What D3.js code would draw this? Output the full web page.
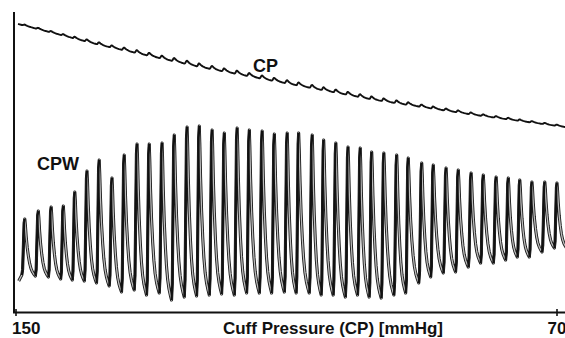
<!DOCTYPE html>
<html>
<head>
<meta charset="utf-8">
<script src="https://cdn.jsdelivr.net/npm/d3@7"></script>
<style>
  body { margin: 0; background: #fff; }
  text { font-family: "Liberation Sans", Arial, sans-serif; font-weight: bold; fill: #111; }
</style>
</head>
<body>
<div id="chart"></div>
<script>
// x axis: cuff pressure, falling during deflation
const cuffTicks = [150, 70];

// each pulse: cuff pressure at its peak, peak level and the trough just before it (signal units)
const beatCP = [148.7, 146.7, 144.8, 143.0, 141.3, 139.5, 137.7, 135.8, 134.0, 132.1,
                130.3, 128.4, 126.6, 124.7, 122.9, 121.0, 119.2, 117.3, 115.5, 113.6,
                111.8, 109.9, 108.2, 106.2, 104.5, 102.7, 100.9, 99.1, 97.4, 95.6,
                93.7, 92.0, 90.0, 88.3, 86.4, 84.6, 82.7, 80.9, 79.0, 77.2,
                75.5, 73.7, 71.8, 70.0];
const beatPeak = [93, 101, 105, 106, 120, 141, 152, 134, 157, 168,
                  168, 169, 177, 185, 186, 182, 179, 184, 182, 181,
                  178, 179, 179, 177, 172, 169, 165, 164, 160, 159,
                  157, 154, 149, 147, 144, 142, 139, 137, 135, 134,
                  132, 130, 130, 129];
const beatTrough = [37, 36, 35, 33, 32, 31, 29, 26, 20, 22,
                    17, 19, 12, 15, 16, 17, 18, 17, 19, 19,
                    19, 20, 19, 19, 17, 17, 15, 17, 15, 14,
                    17, 19, 29, 35, 39, 40, 45, 49, 49, 52,
                    55, 55, 60, 64];
const waveStart = [149.6, 31];

// slow cuff pressure trend (the CP trace without its pulse ripple)
const cpKnotCP = [149.7, 137.6, 122.8, 109.5, 96.9, 82.1, 68.8];
const cpKnotLevel = [288, 267, 245, 228, 212, 197, 185];
const cpRipple = 0.02;

// shape of one beat: fall after the peak, then the upstroke
const fallPhase = [0.04, 0.1, 0.18, 0.27, 0.36, 0.46, 0.57, 0.68, 0.78];
const fallShape = [0.1, 0.3, 0.5, 0.66, 0.78, 0.87, 0.93, 0.97, 1];
const risePhase = [0.84, 0.9, 0.95];
const riseShape = [0.1, 0.55, 0.93];

const width = 565, height = 338;

const svg = d3.select("#chart").append("svg")
    .attr("width", width)
    .attr("height", height);

const x = d3.scaleLinear().domain([150, 70]).range([16, 557]);
const y = d3.scaleLinear().domain([0, 300]).range([312, 12]);
const cpBase = d3.scaleLinear().domain(cpKnotCP).range(cpKnotLevel).clamp(true);

// build the CPW samples beat by beat
const n = beatCP.length;
const period = i => i < n - 1 ? beatCP[i] - beatCP[i + 1] : beatCP[i - 1] - beatCP[i];
const wave = [{ cp: waveStart[0], v: waveStart[1] }];
const upstrokes = [];
const troughCP = [];
for (let i = 0; i < n; i++) {
    const t0 = beatCP[i], p = period(i);
    // trough and upstroke into this peak
    const tPrev = t0 + (i > 0 ? beatCP[i - 1] - t0 : p);
    const tTr = tPrev + 0.78 * (t0 - tPrev);
    troughCP.push(tTr);
    const up = [{ cp: tTr, v: beatTrough[i] }];
    risePhase.forEach((ph, k) => up.push({
        cp: tPrev + ph * (t0 - tPrev),
        v: beatTrough[i] + riseShape[k] * (beatPeak[i] - beatTrough[i])
    }));
    up.push({ cp: t0, v: beatPeak[i] });
    up.forEach(d => wave.push(d));
    upstrokes.push(up);
    // fall towards the next trough
    const t1 = t0 - p;
    const next = i < n - 1 ? beatTrough[i + 1] : beatTrough[i];
    fallPhase.slice(0, -1).forEach((ph, k) => wave.push({
        cp: t0 + ph * (t1 - t0),
        v: beatPeak[i] - fallShape[k] * (beatPeak[i] - next)
    }));
    if (i === n - 1) wave.push({ cp: t0 + 0.78 * (t1 - t0), v: next });
}

// CP trace = slow trend + small copy of the pulse above its trough line
const floor = d3.scaleLinear().domain(troughCP).range(beatTrough).clamp(true);
const cpTrace = [{ cp: cpKnotCP[0], v: cpKnotLevel[0] }].concat(
    wave.filter(d => d.cp <= cpKnotCP[0]).map(d => ({
        cp: d.cp,
        v: cpBase(d.cp) + cpRipple * Math.max(0, d.v - floor(d.cp))
    })));

const line = d3.line().x(d => x(d.cp)).y(d => y(d.v));

// axes
svg.append("line")
    .attr("x1", x(150) - 2).attr("x2", x(150) - 2)
    .attr("y1", 12).attr("y2", y(0) + 1)
    .attr("stroke", "#111").attr("stroke-width", 2);
svg.append("line")
    .attr("x1", x(150) - 3).attr("x2", width)
    .attr("y1", y(0) + 0.5).attr("y2", y(0) + 0.5)
    .attr("stroke", "#111").attr("stroke-width", 2);
svg.selectAll(".tick").data(cuffTicks).enter().append("line")
    .attr("class", "tick")
    .attr("x1", d => x(d)).attr("x2", d => x(d))
    .attr("y1", y(0) - 3).attr("y2", y(0) + 4)
    .attr("stroke", "#111").attr("stroke-width", 1.6);
svg.selectAll(".ticklabel").data(cuffTicks).enter().append("text")
    .attr("class", "ticklabel")
    .attr("x", (d, i) => i === 0 ? x(d) - 4 : x(d))
    .attr("y", 334)
    .attr("text-anchor", (d, i) => i === 0 ? "start" : "middle")
    .style("font-size", "17px")
    .text(d => d);
svg.append("text")
    .attr("x", 333).attr("y", 334)
    .attr("text-anchor", "middle")
    .style("font-size", "17px")
    .text("Cuff Pressure (CP) [mmHg]");

// CP trace
svg.append("path")
    .datum(cpTrace)
    .attr("fill", "none")
    .attr("stroke", "#111")
    .attr("stroke-width", 1.9)
    .attr("stroke-linejoin", "round")
    .attr("d", line);

// CPW trace, drawn as a hollow double line like the scan
svg.append("path")
    .datum(wave)
    .attr("fill", "none")
    .attr("stroke", "#1a1a1a")
    .attr("stroke-width", 3.1)
    .attr("stroke-linejoin", "round")
    .attr("d", line);
svg.append("path")
    .datum(wave)
    .attr("fill", "none")
    .attr("stroke", "#bdbdbd")
    .attr("stroke-width", 1.3)
    .attr("stroke-linejoin", "round")
    .attr("d", line);
svg.selectAll(".up").data(upstrokes).enter().append("path")
    .attr("class", "up")
    .attr("fill", "none")
    .attr("stroke", "#111")
    .attr("stroke-width", 2.2)
    .attr("d", line);

// trace labels
svg.append("text").attr("x", 253).attr("y", 72).style("font-size", "18px").text("CP");
svg.append("text").attr("x", 37).attr("y", 170).style("font-size", "18px").text("CPW");
</script>
</body>
</html>
